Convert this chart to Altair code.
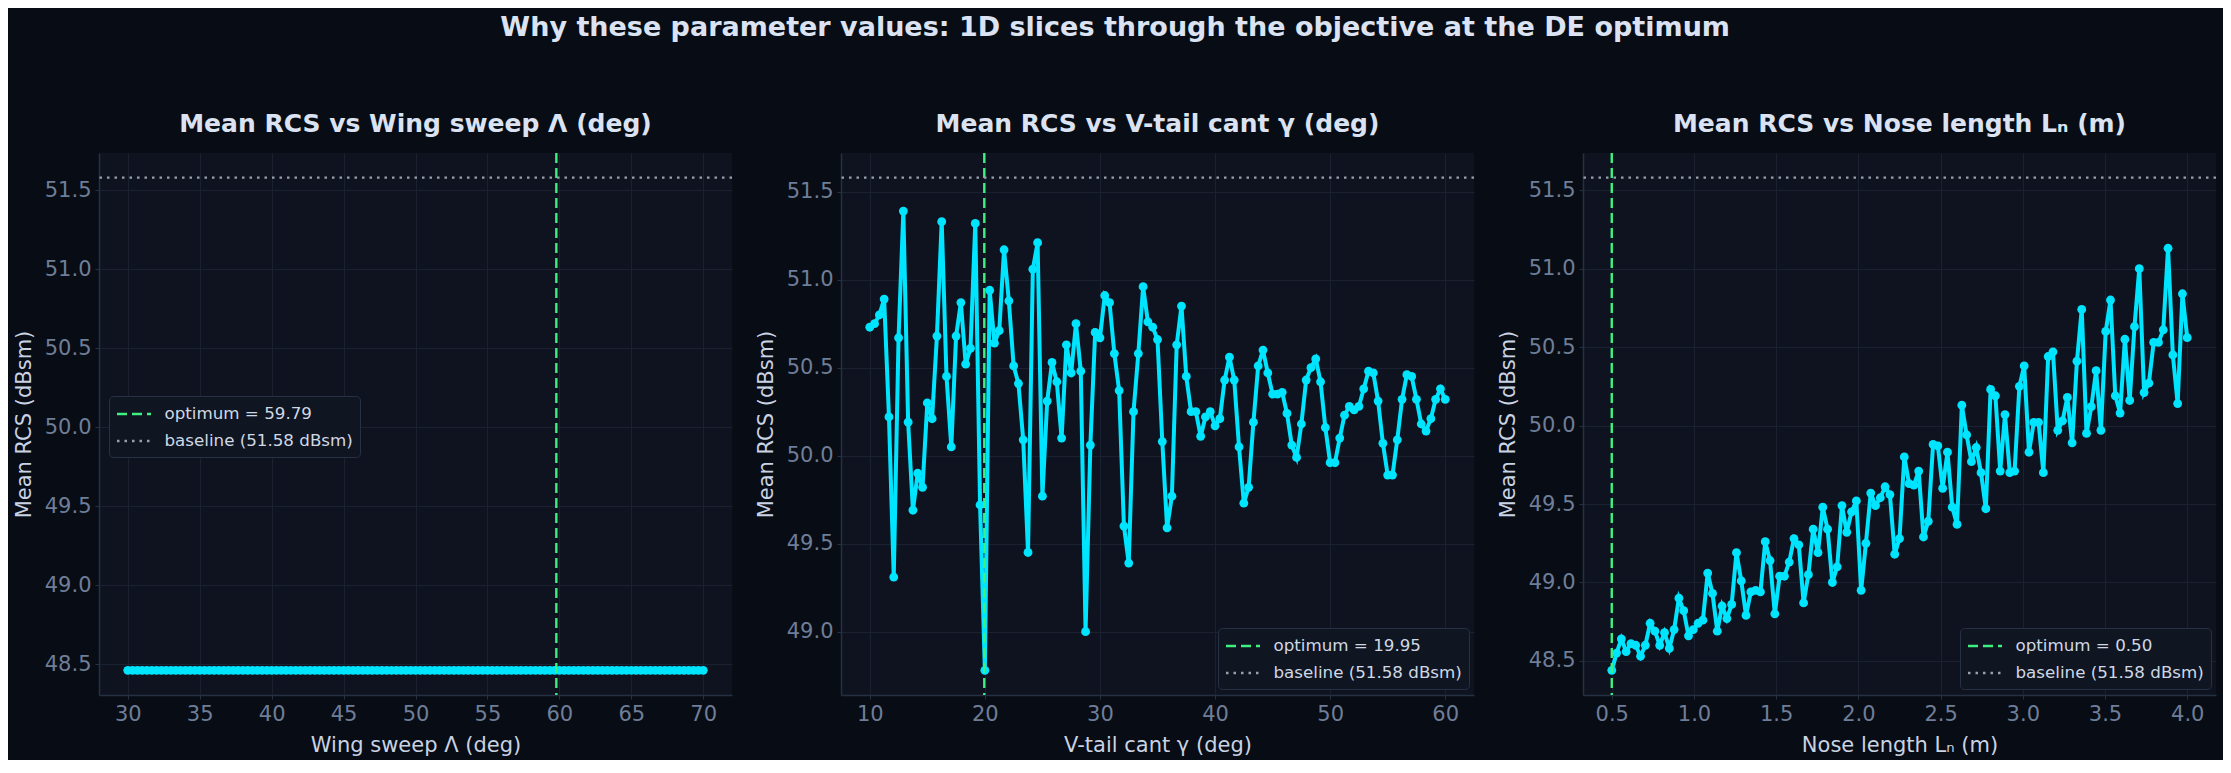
import altair as alt
import numpy as np
import pandas as pd

# ---------------- data ----------------
sweep_x = np.linspace(30, 70, 121)
sweep_y = [48.46] * 121
sweep_opt = 59.79

cant_x = np.linspace(10, 60, 121)
cant_y = [
    50.73, 50.75, 50.80, 50.89, 50.22, 49.31, 50.67, 51.39, 50.19, 49.69,
    49.90, 49.82, 50.30, 50.21, 50.68, 51.33, 50.45, 50.05, 50.68, 50.87,
    50.52, 50.61, 51.32, 49.72, 48.78, 50.94, 50.64, 50.71, 51.17, 50.88,
    50.51, 50.41, 50.09, 49.45, 51.06, 51.21, 49.77, 50.31, 50.53, 50.42,
    50.10, 50.63, 50.47, 50.75, 50.48, 49.00, 50.06, 50.70, 50.67, 50.91,
    50.87, 50.58, 50.37, 49.60, 49.39, 50.25, 50.58, 50.96, 50.76, 50.73,
    50.66, 50.08, 49.59, 49.77, 50.63, 50.85, 50.45, 50.25, 50.25, 50.11,
    50.22, 50.25, 50.17, 50.21, 50.43, 50.56, 50.43, 50.05, 49.73, 49.82,
    50.19, 50.51, 50.60, 50.47, 50.35, 50.35, 50.36, 50.24, 50.06, 49.99,
    50.18, 50.43, 50.50, 50.55, 50.42, 50.16, 49.96, 49.96, 50.10, 50.23,
    50.28, 50.26, 50.28, 50.38, 50.48, 50.47, 50.31, 50.07, 49.89, 49.89,
    50.09, 50.32, 50.46, 50.45, 50.32, 50.18, 50.14, 50.21, 50.32, 50.38,
    50.32,
]
cant_opt = 19.95

nose_x = np.linspace(0.5, 4.0, 121)
nose_y = [
    48.44, 48.55, 48.64, 48.56, 48.61, 48.60, 48.53, 48.60, 48.74, 48.69,
    48.60, 48.68, 48.58, 48.70, 48.90, 48.82, 48.66, 48.70, 48.74, 48.76,
    49.06, 48.93, 48.69, 48.85, 48.77, 48.86, 49.19, 49.01, 48.79, 48.94,
    48.95, 48.94, 49.26, 49.14, 48.80, 49.04, 49.04, 49.13, 49.28, 49.24,
    48.87, 49.05, 49.34, 49.19, 49.48, 49.34, 49.00, 49.10, 49.49, 49.32,
    49.45, 49.52, 48.95, 49.25, 49.57, 49.49, 49.54, 49.61, 49.56, 49.18,
    49.28, 49.80, 49.63, 49.62, 49.71, 49.29, 49.39, 49.88, 49.87, 49.60,
    49.83, 49.48, 49.37, 50.13, 49.94, 49.77, 49.86, 49.70, 49.47, 50.23,
    50.19, 49.71, 50.07, 49.70, 49.71, 50.25, 50.38, 49.83, 50.02, 50.02,
    49.70, 50.44, 50.47, 49.97, 50.03, 50.18, 49.89, 50.41, 50.74, 49.95,
    50.12, 50.35, 49.97, 50.60, 50.80, 50.19, 50.08, 50.55, 50.16, 50.63,
    51.00, 50.21, 50.27, 50.53, 50.53, 50.61, 51.13, 50.45, 50.14, 50.84,
    50.56,
]
nose_opt = 0.50

baseline = 51.58
baseline_label = "baseline (51.58 dBsm)"

sweep_ticks = [30, 35, 40, 45, 50, 55, 60, 65, 70]
cant_ticks = [10, 20, 30, 40, 50, 60]
nose_ticks = [0.5, 1.0, 1.5, 2.0, 2.5, 3.0, 3.5, 4.0]
y_ticks_full = [48.5, 49.0, 49.5, 50.0, 50.5, 51.0, 51.5]
y_ticks_cant = [49.0, 49.5, 50.0, 50.5, 51.0, 51.5]

# ---------------- style ----------------
BG = "#080c14"
PLOT_BG = "#0e131f"
GRID = "#1a2131"
SPINE = "#263043"
TICK_LABEL = "#6f7e98"
AXIS_TITLE = "#c9d3e3"
TITLE_C = "#dbe3f3"
CYAN = "#00e5ff"
GREEN = "#3df07f"
GRAY = "#98a0ac"
FONT = "DejaVu Sans"

W, H = 633, 542


def panel(xs, ys, opt, opt_label, xtitle, ptitle, xdom, ydom, xticks, xfmt, yticks, lx, ly):
    df = pd.DataFrame({"x": xs, "y": ys})
    xscale = alt.Scale(domain=xdom, nice=False, zero=False)
    yscale = alt.Scale(domain=ydom, nice=False, zero=False)
    xenc = alt.X("x:Q", scale=xscale,
                 axis=alt.Axis(values=xticks, format=xfmt, title=xtitle))
    yenc = alt.Y("y:Q", scale=yscale,
                 axis=alt.Axis(values=yticks, format=".1f", title="Mean RCS (dBsm)"))
    dom = [opt_label, baseline_label]
    leg = alt.Legend(title=None, orient="none", legendX=lx, legendY=ly)
    color = alt.Color("kind:N", scale=alt.Scale(domain=dom, range=[GREEN, GRAY]), legend=leg)
    dash = alt.StrokeDash("kind:N", scale=alt.Scale(domain=dom, range=[[10, 5], [2.5, 5]]), legend=leg)

    line = alt.Chart(df).mark_line(color=CYAN, strokeWidth=4).encode(x=xenc, y=yenc)
    pts = alt.Chart(df).mark_circle(color=CYAN, size=78, opacity=1).encode(
        x=alt.X("x:Q", scale=xscale), y=alt.Y("y:Q", scale=yscale))
    opt_df = pd.DataFrame({"x": [opt], "kind": [opt_label]})
    vline = alt.Chart(opt_df).mark_rule(strokeWidth=2.4).encode(
        x=alt.X("x:Q", scale=xscale), color=color, strokeDash=dash)
    base_df = pd.DataFrame({"y": [baseline], "kind": [baseline_label]})
    hline = alt.Chart(base_df).mark_rule(strokeWidth=2.2).encode(
        y=alt.Y("y:Q", scale=yscale), color=color, strokeDash=dash)
    return alt.layer(line, pts, vline, hline).properties(
        width=W, height=H,
        title=alt.TitleParams(text=ptitle, fontSize=25, fontWeight="bold",
                              color=TITLE_C, offset=15, anchor="middle"),
    )


p1 = panel(sweep_x, sweep_y, sweep_opt, "optimum = 59.79", "Wing sweep Λ (deg)",
           "Mean RCS vs Wing sweep Λ (deg)", [28, 72], [48.304, 51.736],
           sweep_ticks, "d", y_ticks_full, 10, 243)
p2 = panel(cant_x, cant_y, cant_opt, "optimum = 19.95", "V-tail cant γ (deg)",
           "Mean RCS vs V-tail cant γ (deg)", [7.5, 62.5], [48.64, 51.72],
           cant_ticks, "d", y_ticks_cant, 377, 475)
p3 = panel(nose_x, nose_y, nose_opt, "optimum = 0.50", "Nose length Lₙ (m)",
           "Mean RCS vs Nose length Lₙ (m)", [0.325, 4.175], [48.283, 51.737],
           nose_ticks, ".1f", y_ticks_full, 377, 475)

chart = (
    alt.hconcat(p1, p2, p3, spacing=109, bounds="flush")
    .resolve_scale(x="independent", y="independent", color="independent", strokeDash="independent")
    .resolve_legend(color="independent", strokeDash="independent")
    .properties(
        background=BG,
        padding=5,
        title=alt.TitleParams(
            text="Why these parameter values: 1D slices through the objective at the DE optimum",
            fontSize=27, fontWeight="bold", color=TITLE_C, anchor="middle", offset=70,
        ),
    )
    .configure_view(fill=PLOT_BG, strokeWidth=0)
    .configure_axis(
        grid=True, gridColor=GRID, gridWidth=1,
        domainColor=SPINE, domainWidth=1.5,
        tickColor=SPINE, tickSize=4, tickWidth=1,
        labelColor=TICK_LABEL, labelFont=FONT, labelFontSize=21, labelPadding=4,
        titleColor=AXIS_TITLE, titleFont=FONT, titleFontSize=21, titleFontWeight="normal",
        titlePadding=10,
    )
    .configure_title(font=FONT)
    .configure_legend(
        fillColor="#0f1521", strokeColor="#273144", cornerRadius=4, padding=6.5,
        labelFont=FONT, labelFontSize=16.7, labelColor="#d0d8e5", labelOffset=26,
        labelLimit=500,
        symbolType="M-1,0L2.4,0", symbolSize=400, symbolStrokeWidth=2.3, rowPadding=6,
    )
)

chart.save("out.html", embed_options={"renderer": "svg", "actions": False})
